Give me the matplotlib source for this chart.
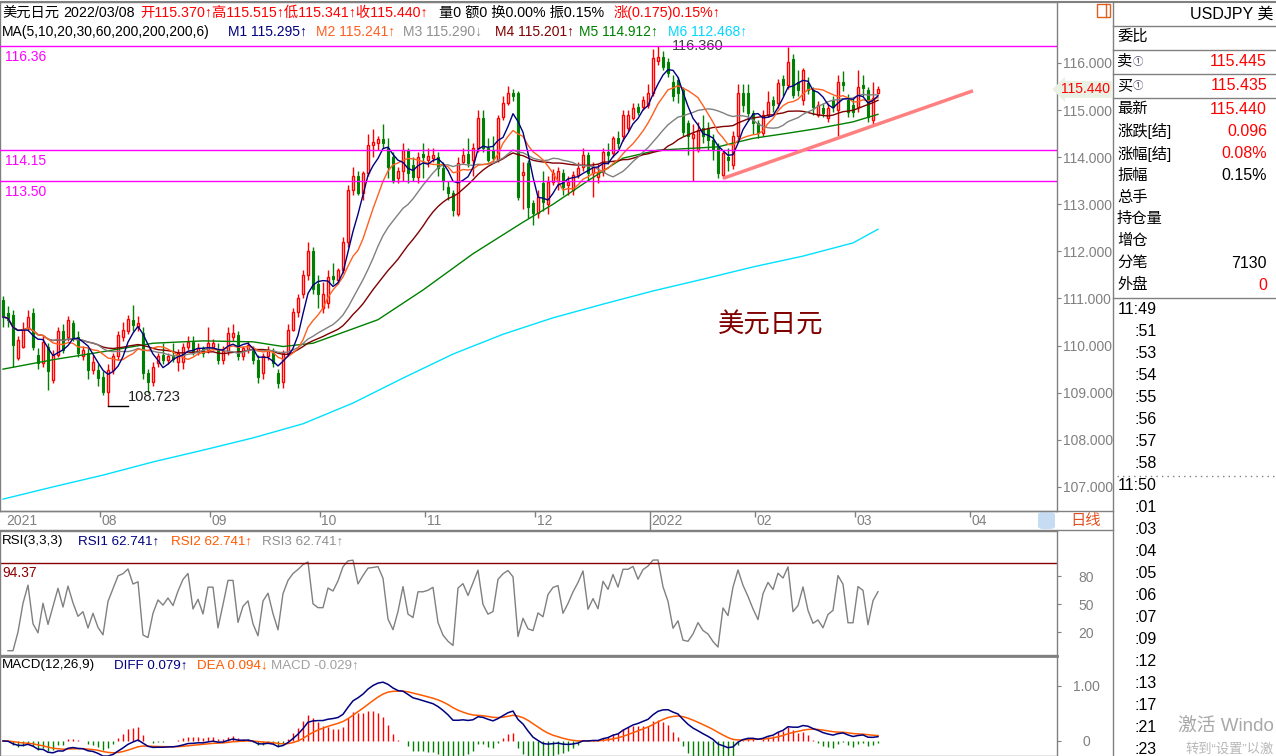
import numpy as np
import pandas as pd
import matplotlib
matplotlib.use('Agg')
import matplotlib.pyplot as plt
from matplotlib.lines import Line2D
from matplotlib.patches import Rectangle, FancyBboxPatch
from matplotlib.transforms import blended_transform_factory

plt.rcParams['font.family'] = ['Liberation Sans', 'Noto Sans CJK SC', 'DejaVu Sans']

# 日线数据 2021/07/06 - 2022/03/08
opens = [
    110.97, 110.70, 110.65, 109.73, 109.98, 110.37, 110.69, 109.80, 109.62, 109.98,
    109.27, 109.80, 110.30, 110.19, 110.47, 110.19, 109.77, 109.84, 109.48, 109.48,
    109.34, 109.02, 109.48, 109.77, 110.19, 110.30, 110.54, 110.40, 110.26, 109.41,
    109.23, 109.62, 109.80, 109.70, 109.78, 109.66, 109.66, 109.98, 110.08, 109.87,
    109.94, 109.91, 109.98, 109.91, 109.70, 109.88, 110.19, 110.23, 109.77, 109.91,
    109.91, 109.70, 109.41, 109.77, 109.84, 109.41, 109.23, 109.84, 110.33, 110.71,
    111.10, 111.50, 112.00, 111.30, 110.80, 110.90, 111.48, 111.40, 111.60, 112.20,
    113.30, 113.60, 113.24, 113.66, 114.26, 114.30, 114.38, 114.20, 114.00, 113.55,
    113.70, 114.15, 113.84, 113.58, 114.07, 113.95, 113.98, 114.00, 113.77, 113.37,
    113.24, 112.80, 113.90, 114.07, 113.94, 114.20, 114.83, 114.20, 114.15, 113.94,
    114.85, 115.15, 115.36, 115.36, 113.62, 113.88, 113.02, 112.81, 113.45, 113.00,
    113.48, 113.50, 113.66, 113.41, 113.30, 113.62, 113.80, 114.05, 113.66, 113.59,
    113.69, 114.12, 114.08, 114.40, 114.44, 114.61, 114.83, 115.07, 115.07, 115.11,
    115.36, 116.05, 116.13, 116.03, 115.60, 115.64, 115.43, 114.72, 114.40, 114.15,
    114.61, 114.61, 114.37, 114.22, 113.62, 114.01, 113.83, 114.44, 115.36, 115.36,
    114.93, 114.72, 114.51, 114.90, 115.21, 115.14, 115.67, 115.53, 116.09, 115.60,
    115.21, 115.57, 115.43, 114.90, 115.04, 114.83, 115.21, 115.00, 115.60, 115.21,
    115.11, 115.07, 115.53, 115.43, 114.79, 115.37]
highs = [
    111.05, 110.85, 110.75, 110.20, 110.50, 110.75, 110.80, 109.95, 110.20, 110.05,
    109.90, 110.40, 110.45, 110.62, 110.55, 110.30, 110.00, 109.95, 109.80, 109.60,
    109.45, 109.60, 109.85, 110.30, 110.50, 110.65, 110.86, 110.62, 110.40, 109.50,
    109.65, 109.85, 110.05, 109.85, 110.05, 109.92, 110.05, 110.20, 110.20, 110.05,
    110.00, 110.40, 110.15, 110.05, 110.00, 110.40, 110.45, 110.30, 110.00, 110.10,
    110.00, 109.80, 109.85, 110.00, 109.95, 109.50, 109.90, 110.45, 110.80, 111.10,
    111.60, 112.20, 112.10, 111.50, 111.35, 111.60, 111.75, 111.65, 112.30, 113.40,
    113.80, 113.70, 113.70, 114.50, 114.60, 114.45, 114.70, 114.40, 114.10, 113.80,
    114.30, 114.20, 114.00, 114.10, 114.30, 114.20, 114.20, 114.10, 113.90, 113.50,
    113.30, 114.00, 114.20, 114.40, 114.30, 115.00, 115.00, 114.40, 114.45, 114.90,
    115.30, 115.52, 115.45, 115.40, 113.90, 113.95, 113.10, 113.30, 113.70, 113.60,
    113.75, 113.80, 113.75, 113.60, 113.70, 113.90, 114.20, 114.10, 113.90, 113.85,
    114.20, 114.30, 114.45, 114.55, 115.00, 115.00, 115.15, 115.15, 115.30, 115.55,
    116.30, 116.36, 116.25, 116.10, 115.75, 115.70, 115.50, 114.80, 114.70, 114.75,
    114.90, 114.75, 114.50, 114.30, 114.15, 114.20, 114.55, 115.55, 115.55, 115.55,
    115.00, 114.80, 115.00, 115.40, 115.30, 115.65, 115.75, 116.34, 116.20, 115.85,
    115.90, 115.70, 115.50, 115.20, 115.15, 115.15, 115.30, 115.75, 115.82, 115.35,
    115.25, 115.85, 115.75, 115.50, 115.60, 115.515]
lows = [
    110.40, 110.40, 109.55, 109.70, 109.95, 110.30, 109.90, 109.50, 109.55, 109.06,
    109.20, 109.75, 109.85, 110.10, 110.10, 109.75, 109.70, 109.30, 109.40, 109.15,
    108.95, 108.723, 109.40, 109.70, 110.10, 110.25, 110.30, 110.30, 109.30, 109.00,
    109.15, 109.55, 109.60, 109.60, 109.65, 109.45, 109.50, 109.90, 109.80, 109.80,
    109.75, 109.85, 109.90, 109.60, 109.60, 109.80, 110.10, 109.70, 109.70, 109.85,
    109.60, 109.20, 109.30, 109.70, 109.55, 109.10, 109.10, 109.80, 110.30, 110.60,
    111.00, 111.40, 111.10, 110.80, 110.70, 110.80, 111.30, 111.30, 111.55, 112.10,
    113.20, 113.20, 113.10, 113.60, 114.00, 114.15, 114.20, 113.55, 113.45, 113.45,
    113.50, 113.45, 113.50, 113.45, 113.55, 113.80, 113.90, 113.60, 113.30, 113.10,
    112.75, 112.75, 113.85, 113.80, 113.60, 114.10, 114.10, 113.90, 113.90, 113.90,
    114.80, 115.10, 115.20, 113.10, 112.90, 112.70, 112.55, 112.70, 112.85, 112.80,
    113.40, 113.30, 113.20, 113.20, 113.20, 113.55, 113.70, 113.50, 113.16, 113.45,
    113.60, 113.85, 114.00, 114.20, 114.35, 114.55, 114.80, 114.90, 115.00, 115.05,
    115.30, 115.95, 115.85, 115.70, 115.20, 115.15, 114.45, 114.05, 113.50, 114.10,
    114.30, 114.15, 113.95, 113.55, 113.55, 113.70, 113.75, 114.35, 114.95, 114.80,
    114.50, 114.40, 114.45, 114.85, 114.95, 115.05, 115.30, 115.45, 115.25, 115.30,
    115.10, 115.35, 114.90, 114.85, 114.85, 114.75, 114.95, 114.45, 115.40, 114.85,
    114.85, 114.95, 115.30, 114.75, 114.70, 115.341]
closes = [
    110.61, 110.55, 110.01, 110.12, 110.35, 110.61, 109.98, 109.62, 110.08, 109.45,
    109.80, 110.30, 109.91, 110.54, 110.19, 109.84, 109.91, 109.48, 109.66, 109.31,
    109.02, 109.48, 109.77, 110.23, 110.33, 110.56, 110.44, 110.48, 109.41, 109.23,
    109.55, 109.77, 109.70, 109.78, 109.72, 109.84, 109.98, 110.08, 109.87, 109.94,
    109.84, 110.05, 110.05, 109.70, 109.88, 110.26, 110.26, 109.77, 109.95, 110.01,
    109.70, 109.34, 109.77, 109.91, 109.62, 109.20, 109.84, 110.33, 110.71, 111.00,
    111.50, 112.00, 111.20, 111.10, 111.10, 111.45, 111.42, 111.60, 112.20, 113.30,
    113.60, 113.25, 113.66, 114.26, 114.32, 114.38, 114.30, 113.80, 113.50, 113.70,
    114.15, 113.66, 113.58, 114.00, 114.00, 114.02, 114.05, 113.77, 113.50, 113.24,
    112.88, 113.88, 114.05, 113.88, 114.20, 114.83, 114.20, 113.94, 113.98, 114.83,
    115.15, 115.36, 115.30, 113.15, 113.68, 112.95, 112.81, 113.16, 113.05, 113.48,
    113.66, 113.70, 113.37, 113.48, 113.62, 113.76, 114.05, 113.66, 113.80, 113.69,
    114.12, 114.05, 114.40, 114.30, 114.90, 114.90, 115.04, 114.97, 115.21, 115.36,
    116.10, 116.13, 115.92, 115.78, 115.29, 115.36, 114.54, 114.44, 114.50, 114.58,
    114.44, 114.37, 114.15, 113.66, 114.08, 113.94, 114.44, 115.36, 115.11, 114.93,
    114.72, 114.51, 114.90, 115.18, 115.11, 115.57, 115.53, 116.03, 115.32, 115.43,
    115.85, 115.43, 115.07, 115.11, 114.93, 115.04, 115.07, 115.60, 115.53, 114.97,
    114.97, 115.50, 115.46, 114.86, 115.25, 115.44]

# MA60 / MA200 读图取样 (之前的历史数据不在图内)
ma60_idx = [0, 10, 20, 30, 40, 50, 56, 62, 68, 75, 84, 94, 104, 110, 117, 124,
            131, 138, 143, 150, 157, 163, 170, 175]
ma60_val = [109.50, 109.70, 109.87, 110.05, 110.10, 110.08, 109.98, 110.05, 110.28,
            110.55, 111.18, 111.95, 112.62, 113.00, 113.50, 113.98, 114.15, 114.19,
            114.22, 114.40, 114.51, 114.61, 114.75, 114.91]
ma200_idx = [0, 10, 20, 30, 40, 50, 60, 70, 80, 90, 100, 110, 120, 130, 140, 150,
             160, 170, 175]
ma200_val = [106.74, 107.00, 107.25, 107.53, 107.78, 108.04, 108.34, 108.78, 109.31,
             109.82, 110.24, 110.59, 110.88, 111.16, 111.41, 111.67, 111.90, 112.18,
             112.47]

levels = [116.36, 114.15, 113.50]
trend_idx = [144, 194]
trend_val = [113.55, 115.41]
rsi_level = 94.37

month_pos = [0, 19, 41, 63, 84, 106, 129, 150, 170, 193]
month_lbl = ['2021', '08', '09', '10', '11', '12', '2022', '02', '03', '04']

quote_rows = [('委比', ''), ('卖', '115.445'), ('买', '115.435'), ('最新', '115.440'),
              ('涨跌[结]', '0.096'), ('涨幅[结]', '0.08%'), ('振幅', '0.15%'),
              ('总手', ''), ('持仓量', ''), ('增仓', ''), ('分笔', '7130'), ('外盘', '0')]
quote_colors = ['red', 'red', 'red', 'red', 'red', 'red', 'black', 'black', 'black',
                'black', 'black', 'red']
tick_times = ['11:49', ':51', ':53', ':54', ':55', ':56', ':57', ':58', '11:50', ':01',
              ':03', ':04', ':05', ':06', ':07', ':09', ':12', ':13', ':17', ':21', ':23']

O = np.array(opens)
Hh = np.array(highs)
L = np.array(lows)
C = np.array(closes)
N = len(C)
idx = np.arange(N)

W, H = 1276, 756
fig = plt.figure(figsize=(W / 100, H / 100), dpi=100)
fig.patch.set_facecolor('white')


def fx(px):
    return px / W


def fy(py):
    return 1 - py / H


def ftext(px, py, s, color='black', size=10, ha='left', **kw):
    return fig.text(fx(px), fy(py), s, color=color, fontsize=size, ha=ha, va='center', **kw)


def fline(x0, y0, x1, y1, color='#808080', lw=1, **kw):
    fig.add_artist(Line2D([fx(x0), fx(x1)], [fy(y0), fy(y1)], color=color, lw=lw,
                          transform=fig.transFigure, **kw))


GRAY = '#808080'
XL = (-0.6, 210.8)

ax = fig.add_axes([0, fy(511), fx(1057), (511 - 2) / H])
ax_rsi = fig.add_axes([0, fy(655), fx(1057), (655 - 531) / H])
ax_macd = fig.add_axes([0, 0, fx(1057), (756 - 656) / H])

for a in (ax, ax_rsi, ax_macd):
    a.set_xlim(*XL)
    a.set_xticks([])
    a.yaxis.tick_right()
    for sp in a.spines.values():
        sp.set_color(GRAY)
        sp.set_linewidth(1)
    a.tick_params(axis='y', direction='out', length=3, color=GRAY, labelcolor=GRAY,
                  labelsize=10)

# ---- K线 ----
ax.set_ylim(106.488, 117.295)
up = C >= O
lo = np.minimum(O, C)
hgt = np.maximum(np.abs(C - O), 0.012)
wick_col = np.where(up, '#ff0000', '#008000')
ax.vlines(idx, L, Hh, colors=wick_col, lw=1, zorder=2)
ax.bar(idx[up], hgt[up], bottom=lo[up], width=0.55, facecolor='white',
       edgecolor='#ff0000', lw=1, zorder=3)
ax.bar(idx[~up], hgt[~up], bottom=lo[~up], width=0.55, facecolor='#008000',
       edgecolor='#008000', lw=0.8, zorder=3)

s = pd.Series(C)
ma_cols = {5: '#000080', 10: '#ff6020', 20: '#808080', 30: '#800000'}
ax.plot(ma200_idx, ma200_val, color='#00e1ff', lw=1, zorder=4)
ax.plot(ma60_idx, ma60_val, color='#008000', lw=1, zorder=4)
for n in (30, 20, 10, 5):
    ax.plot(idx, s.rolling(n, min_periods=1).mean(), color=ma_cols[n], lw=1, zorder=4)

for lv in levels:
    ax.axhline(lv, color='#ff00ff', lw=1, zorder=5)
    ax.annotate(f'{lv:.2f}', xy=(0, lv), xycoords=blended_transform_factory(ax.transAxes, ax.transData),
                xytext=(5, -4), textcoords='offset pixels', ha='left', va='top',
                color='#ff00ff', fontsize=10)

ax.plot(trend_idx, trend_val, color='#ff8080', lw=2.5, zorder=5, solid_capstyle='butt')

hi = int(np.argmax(Hh))
ax.annotate(f'{Hh[hi]:.3f}', xy=(hi, Hh[hi]), xytext=(14, 0), textcoords='offset pixels',
            ha='left', va='center', color='#404040', fontsize=10.5)
lo_i = int(np.argmin(L))
ax.plot([lo_i, lo_i + 4], [L[lo_i], L[lo_i]], color='black', lw=1, zorder=5)
ax.annotate(f'{L[lo_i]:.3f}', xy=(lo_i + 4, L[lo_i]), xytext=(0, 2), textcoords='offset pixels',
            ha='left', va='bottom', color='#202020', fontsize=10.5)

ax.text(0.679, 0.365, '美元日元', transform=ax.transAxes, fontsize=19, color='#800000',
        ha='left', va='center', family=['Noto Sans CJK SC'])

ax.set_yticks(np.arange(107, 117))
ax.set_yticklabels([f'{v:.3f}' for v in np.arange(107, 117)])
ax.tick_params(axis='y', pad=1)
ax.text(1.004, C[-1], f'{C[-1]:.3f}', transform=blended_transform_factory(ax.transAxes, ax.transData),
        ha='left', va='center', color='#ff0000', fontsize=10,
        bbox=dict(boxstyle='larrow,pad=0.1', fc='#e9f0e4', ec='none'))

# ---- RSI ----
delta = s.diff()
rsi = (delta.clip(lower=0).ewm(alpha=1 / 3, adjust=False).mean()
       / delta.abs().ewm(alpha=1 / 3, adjust=False).mean() * 100)
ax_rsi.set_ylim(-4.6, 128.2)
ax_rsi.plot(idx, rsi, color='#808080', lw=1)
ax_rsi.axhline(rsi_level, color='#8b0000', lw=1)
ax_rsi.text(0.002, rsi_level - 4, f'{rsi_level:.2f}', transform=blended_transform_factory(ax_rsi.transAxes, ax_rsi.transData),
            ha='left', va='top', color='#8b0000', fontsize=10)
ax_rsi.set_yticks([20, 50, 80])
ax_rsi.set_yticklabels(['20', '50', '80'])
ax_rsi.tick_params(axis='y', pad=18)
for t in ax_rsi.get_yticklabels():
    t.set_horizontalalignment('center')

# ---- MACD ----
ema12 = s.ewm(span=12, adjust=False).mean()
ema26 = s.ewm(span=26, adjust=False).mean()
diff = ema12 - ema26
dea = diff.ewm(span=9, adjust=False).mean()
bar = 2 * (diff - dea)
ax_macd.set_ylim(-0.273, 1.545)
ax_macd.vlines(idx, 0, bar, colors=np.where(bar >= 0, '#ff0000', '#008000'), lw=1)
ax_macd.plot(idx, dea, color='#ff5a00', lw=1.1)
ax_macd.plot(idx, diff, color='#000080', lw=1.1)
ax_macd.set_yticks([0, 1.0])
ax_macd.set_yticklabels(['0', '1.00'])
ax_macd.tick_params(axis='y', pad=18)
for t in ax_macd.get_yticklabels():
    t.set_horizontalalignment('center')
ax_macd.spines['top'].set_linewidth(2)

# ---- 日期条 ----
ax_x = fig.add_axes([0, fy(530), fx(1057), 19 / H])
ax_x.set_xlim(*XL)
ax_x.set_ylim(0, 1)
ax_x.axis('off')
for p, lb in zip(month_pos, month_lbl):
    if p > 0:
        ax_x.vlines(p + 0.4, 0 if len(lb) == 4 else 0.7, 1, color=GRAY, lw=1)
    ax_x.text(p + 0.7, 0.45, lb, color=GRAY, fontsize=10, ha='left', va='center')
fline(0, 511, 1113, 511)
fline(0, 530, 1113, 530)
fig.add_artist(FancyBboxPatch((fx(1038), fy(529)), fx(17), 17 / H,
                              boxstyle='round,pad=0,rounding_size=0.004',
                              transform=fig.transFigure, fc='#c6dcf3', ec='none'))
ftext(1070, 521, '日线', color='#e05020', size=11)

# ---- 顶部信息 ----
row1 = [(2, '美元日元', 'black'), (63, '2022/03/08', 'black'),
        (140, '开115.370↑高115.515↑低115.341↑收115.440↑', '#ff0000'),
        (439, '量0 额0 换0.00% 振0.15%', 'black'), (614, '涨(0.175)0.15%↑', '#ff0000')]
for px, t, c in row1:
    ftext(px, 13, t, color=c, size=10.3)
row2 = [(2, 'MA(5,10,20,30,60,200,200,200,6)', 'black'), (228, 'M1 115.295↑', '#000080'),
        (316, 'M2 115.241↑', '#ff6020'), (403, 'M3 115.290↓', '#909090'),
        (495, 'M4 115.201↑', '#800000'), (579, 'M5 114.912↑', '#008000'),
        (668, 'M6 112.468↑', '#00d8ff')]
for px, t, c in row2:
    ftext(px, 32, t, color=c, size=10)
row3 = [(2, 'RSI(3,3,3)', 'black'), (78, 'RSI1 62.741↑', '#000080'),
        (171, 'RSI2 62.741↑', '#ff5a00'), (262, 'RSI3 62.741↑', '#909090')]
for px, t, c in row3:
    ftext(px, 541, t, color=c, size=9.6)
row4 = [(2, 'MACD(12,26,9)', 'black'), (114, 'DIFF 0.079↑', '#000080'),
        (197, 'DEA 0.094↓', '#ff5a00'), (271, 'MACD -0.029↑', '#a0a0a0')]
for px, t, c in row4:
    ftext(px, 665, t, color=c, size=9.6)

# ---- 右侧报价栏 ----
fline(0, 2, W, 2, lw=1.5)
fline(1113, 2, 1113, H)
for yy in (26, 50, 74, 98, 298):
    fline(1113, yy, W, yy)
fline(1117, 476, W, 476, ls=(0, (1, 3)), lw=1)
fig.add_artist(Rectangle((fx(1097), fy(17)), fx(13), 13 / H, transform=fig.transFigure,
                         fc='white', ec='#e06020', lw=1))
fline(1106, 4, 1106, 17, color='#e06020')
ftext(1274, 14, 'USDJPY 美', size=11.5, ha='right')
row_y = [37, 62, 86, 109, 131, 154, 176, 198, 219, 241, 263, 285]
for (lb, val), c, yy in zip(quote_rows, quote_colors, row_y):
    ftext(1117, yy, lb, size=11)
    if lb in ('卖', '买'):
        ftext(1133, yy, '①', color='#505070', size=7.5)
    if val:
        ftext(1267, yy, val, color=c, size=11.5, ha='right')
for k, tt in enumerate(tick_times):
    ftext(1157, 310 + k * 21.97, tt, size=11.5, ha='right')
ftext(1274, 727, '激活 Windo', color='#a8a8a8', size=13.5, ha='right')
ftext(1274, 749, '转到“设置”以激', color='#b8b8b8', size=9.5, ha='right')

fig.savefig('out.png', dpi=100, facecolor='white')
